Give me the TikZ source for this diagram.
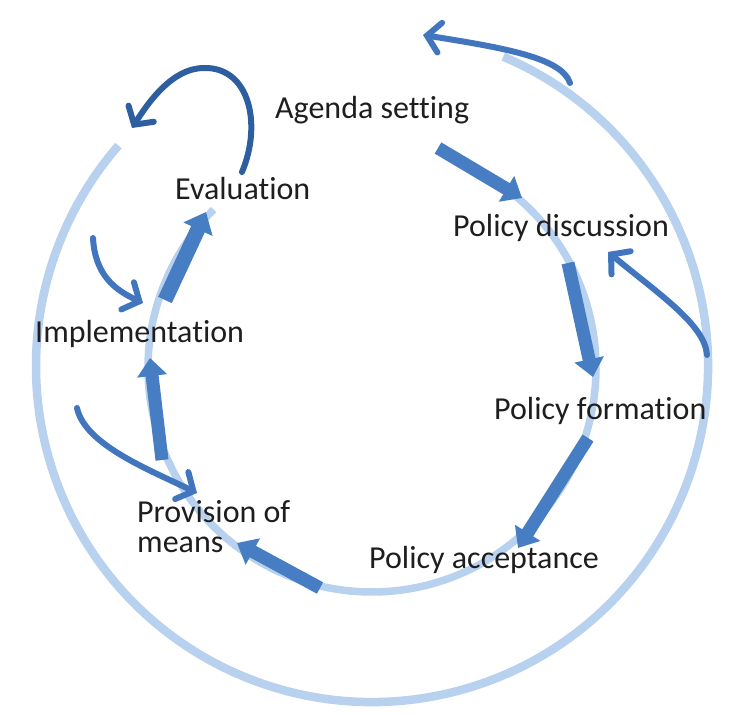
\documentclass[tikz,border=0pt]{standalone}
\usepackage{fontspec}
\setmainfont{Carlito}[Ligatures=NoCommon]
\usetikzlibrary{arrows.meta}
\definecolor{lightb}{HTML}{B7D1EE}
\definecolor{midb}{HTML}{467DC3}
\definecolor{thinb}{HTML}{4176BE}
\definecolor{darkb}{HTML}{2D5FA0}
\definecolor{txt}{HTML}{1E1E1E}
\begin{document}
\begin{tikzpicture}[x=1pt,y=1pt,
  ring/.style={draw=lightb, line width=8.5pt},
  bigarrow/.style={draw=midb, line width=13pt, -{Triangle[length=18pt,width=29pt]}},
  thinarrow/.style={draw=thinb, line width=6pt, line cap=round, -{Straight Barb[length=13pt,width=30pt,line cap=round]}},
  steptext/.style={text=txt, inner sep=0pt, anchor=base west, font=\fontsize{32}{30}\selectfont}]
\useasboundingbox (0,0) rectangle (750,715);
% rings
\coordinate (C) at (372,349);
\draw[ring] (C) ++(67:336) arc[start angle=67, end angle=-221, radius=336];
\coordinate (Ci) at (372,347);
\draw[ring, line width=7.5pt] (Ci) ++(50:224) arc[start angle=50, end angle=-225, radius=224];
% thick arrow end points
\coordinate (a1s) at (438,567); \coordinate (a1e) at (522,517);
\coordinate (a2s) at (568,452); \coordinate (a2e) at (593,338);
\coordinate (a3s) at (588,277); \coordinate (a3e) at (518,167);
\coordinate (a4s) at (320,127); \coordinate (a4e) at (237,172);
\coordinate (a5s) at (162,255); \coordinate (a5e) at (150,357);
\coordinate (a6s) at (165,415); \coordinate (a6e) at (206,503);
\draw[bigarrow] (a1s) -- (a1e);
\draw[bigarrow] (a2s) -- (a2e);
\draw[bigarrow] (a3s) -- (a3e);
\draw[bigarrow] (a4s) -- (a4e);
\draw[bigarrow] (a5s) -- (a5e);
\draw[bigarrow, line width=15pt, -{Triangle[length=19pt,width=31pt]}] (a6s) -- (a6e);
% thin arrow end points
\coordinate (ts) at (570,632); \coordinate (te) at (423,680);
\coordinate (ls) at (242,543); \coordinate (lm) at (204,647); \coordinate (le) at (132,587);
\coordinate (is) at (93,477); \coordinate (ie) at (143,412);
\coordinate (ps) at (77,307); \coordinate (pe) at (197,222);
\coordinate (ds) at (707,360); \coordinate (de) at (608,463);
\draw[thinarrow] (ts) .. controls (562,657) and (505,667) .. (te);
\draw[thinarrow, draw=darkb] (ls) .. controls (262,590) and (250,648) .. (lm) .. controls (172,647) and (148,612) .. (le);
\draw[thinarrow] (is) .. controls (95,440) and (115,425) .. (ie);
\draw[thinarrow] (ps) .. controls (85,270) and (150,245) .. (pe);
\draw[thinarrow] (ds) .. controls (705,390) and (660,420) .. (de);
% texts
\node[steptext] (agenda) at (275,596) {Agenda setting};
\node[steptext] (eval) at (175,515) {Evaluation};
\node[steptext] (impl) at (35,372) {Implementation};
\node[steptext, align=left] (prov) at (137,162) {Provision of\\means};
\node[steptext] (disc) at (453,478) {Policy discussion};
\node[steptext] (form) at (494,295) {Policy formation};
\node[steptext] (acc) at (369,146) {Policy acceptance};
\end{tikzpicture}
\end{document}
